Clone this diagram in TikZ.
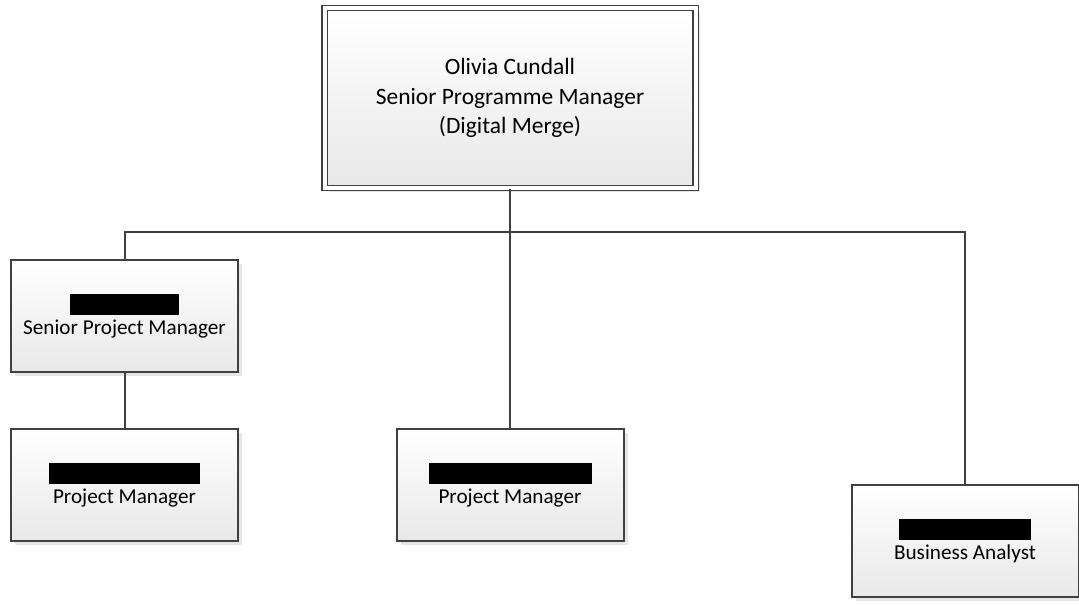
\documentclass[tikz,border=0pt]{standalone}
\usepackage{fontspec}
\setmainfont{Carlito}
\usetikzlibrary{positioning,shadows}

\begin{document}
\begin{tikzpicture}[x=0.75pt, y=-0.75pt,
    box/.style={rectangle, draw=black!75, line width=1.5pt, top color=white, bottom color=black!9,
      drop shadow={shadow xshift=3pt, shadow yshift=-3pt, fill=black!20},
      minimum width=170.25pt, minimum height=84pt, align=center, inner sep=0pt,
      font=\fontsize{15.9}{19}\selectfont},
    head/.style={box, line width=0.8pt, double=white, double distance=3pt,
      minimum width=278.25pt, minimum height=135pt, font=\fontsize{17.6}{22}\selectfont},
    link/.style={draw=black!75, line width=1.5pt}]
    \useasboundingbox (0,0) rectangle (1079,604);

    % Programme manager
    \node[head] (olivia) at (510,98) {Olivia Cundall\\Senior Programme Manager\\(Digital Merge)};
    \coordinate (bus) at (510,232);

    % Reports
    \node[box] (spm) at (124.5,316) {\rule{81.75pt}{15.75pt}\\[-4pt]Senior Project Manager};
    \node[box] (pma) at (124.5,485) {\rule{113.25pt}{15.75pt}\\[-4pt]Project Manager};
    \node[box] (pmb) at (510,485) {\rule{122.25pt}{15.75pt}\\[-4pt]Project Manager};
    \node[box] (ba) at (965,541) {\rule{99pt}{15.75pt}\\[-4pt]Business Analyst};

    % Lines
    \draw[link] (olivia.south) -- (bus);
    \draw[link] (spm.north) |- (bus) -| (ba.north);
    \draw[link] (bus) -- (pmb.north);
    \draw[link] (spm.south) -- (pma.north);
\end{tikzpicture}
\end{document}
